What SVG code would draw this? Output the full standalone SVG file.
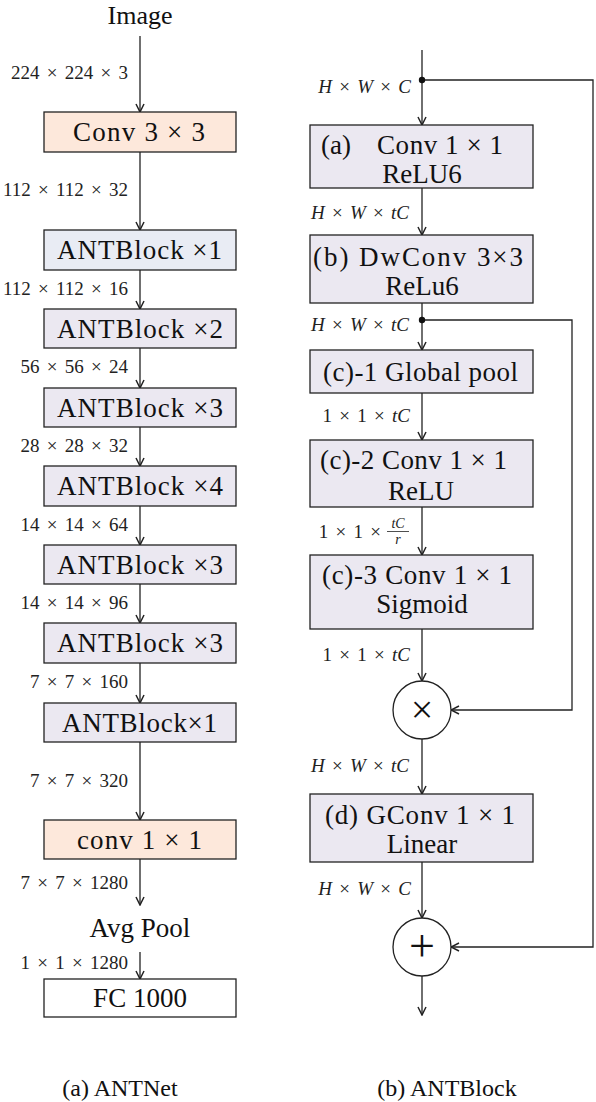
<svg xmlns="http://www.w3.org/2000/svg" width="596" height="1102" viewBox="0 0 596 1102">
<style>
.bx{stroke:#222;stroke-width:1.3}
.peach{fill:#fde8db}
.blue{fill:#e9ecf4}
.lav{fill:#ebe8f1}
.white{fill:#fff}
.t{font-family:"Liberation Serif",serif;font-size:27px;fill:#111;text-anchor:middle}
.tl{font-family:"Liberation Serif",serif;font-size:27px;fill:#111}
.s{font-family:"Liberation Serif",serif;font-size:19px;fill:#222;text-anchor:end;word-spacing:2.5px}
.f{font-family:"Liberation Serif",serif;font-size:14px;fill:#222;text-anchor:middle;font-style:italic}
.i{font-style:italic}
.cap{font-family:"Liberation Serif",serif;font-size:24px;fill:#111;text-anchor:middle}
.ln{fill:none;stroke:#222;stroke-width:1.3}
</style>
<defs>
<marker id="ar" viewBox="0 0 10 10" refX="9" refY="5" markerWidth="10" markerHeight="10" markerUnits="userSpaceOnUse" orient="auto">
<path d="M1,1 L9,5 L1,9" fill="none" stroke="#222" stroke-width="1.5"/>
</marker>
</defs>

<g id="connectors">
<path class="ln" d="M140,36 V112" marker-end="url(#ar)"/>
<path class="ln" d="M140,152 V230" marker-end="url(#ar)"/>
<path class="ln" d="M140,270 V309" marker-end="url(#ar)"/>
<path class="ln" d="M140,348 V388" marker-end="url(#ar)"/>
<path class="ln" d="M140,427 V466" marker-end="url(#ar)"/>
<path class="ln" d="M140,506 V545" marker-end="url(#ar)"/>
<path class="ln" d="M140,584 V623" marker-end="url(#ar)"/>
<path class="ln" d="M140,663 V703" marker-end="url(#ar)"/>
<path class="ln" d="M140,742 V820" marker-end="url(#ar)"/>
<path class="ln" d="M140,859 V905" marker-end="url(#ar)"/>
<path class="ln" d="M140,952 V979" marker-end="url(#ar)"/>

<path class="ln" d="M422,50 V125" marker-end="url(#ar)"/>
<path class="ln" d="M422,188 V235" marker-end="url(#ar)"/>
<path class="ln" d="M422,303 V350" marker-end="url(#ar)"/>
<path class="ln" d="M422,393 V440" marker-end="url(#ar)"/>
<path class="ln" d="M422,507 V555" marker-end="url(#ar)"/>
<path class="ln" d="M422,629 V681" marker-end="url(#ar)"/>
<path class="ln" d="M422,739 V794" marker-end="url(#ar)"/>
<path class="ln" d="M422,862 V918" marker-end="url(#ar)"/>
<path class="ln" d="M422,976 V1015" marker-end="url(#ar)"/>
<path class="ln" d="M422,80 H593 V947 H451" marker-end="url(#ar)"/>
<path class="ln" d="M422,320 H572 V710 H451" marker-end="url(#ar)"/>
<circle cx="422" cy="80" r="3.2" fill="#111"/>
<circle cx="422" cy="320" r="3.2" fill="#111"/>

<text class="s" x="128" y="79">224 × 224 × 3</text>
<text class="s" x="128" y="196">112 × 112 × 32</text>
<text class="s" x="128" y="295">112 × 112 × 16</text>
<text class="s" x="128" y="373">56 × 56 × 24</text>
<text class="s" x="128" y="452">28 × 28 × 32</text>
<text class="s" x="128" y="531">14 × 14 × 64</text>
<text class="s" x="128" y="609">14 × 14 × 96</text>
<text class="s" x="128" y="688">7 × 7 × 160</text>
<text class="s" x="128" y="787">7 × 7 × 320</text>
<text class="s" x="128" y="889">7 × 7 × 1280</text>
<text class="s" x="128" y="969">1 × 1 × 1280</text>

<text class="s" x="411" y="93"><tspan class="i">H</tspan> × <tspan class="i">W</tspan> × <tspan class="i">C</tspan></text>
<text class="s" x="409" y="219"><tspan class="i">H</tspan> × <tspan class="i">W</tspan> × <tspan class="i">tC</tspan></text>
<text class="s" x="409" y="331"><tspan class="i">H</tspan> × <tspan class="i">W</tspan> × <tspan class="i">tC</tspan></text>
<text class="s" x="410" y="422">1 × 1 × <tspan class="i">tC</tspan></text>
<text class="s" x="381" y="538">1 × 1 ×</text>
<text class="f" x="398" y="528">tC</text>
<line x1="387" y1="531.5" x2="409" y2="531.5" stroke="#222" stroke-width="0.8"/>
<text class="f" x="398" y="544">r</text>
<text class="s" x="410" y="661">1 × 1 × <tspan class="i">tC</tspan></text>
<text class="s" x="409" y="772"><tspan class="i">H</tspan> × <tspan class="i">W</tspan> × <tspan class="i">tC</tspan></text>
<text class="s" x="411" y="895"><tspan class="i">H</tspan> × <tspan class="i">W</tspan> × <tspan class="i">C</tspan></text>
</g>

<g id="image"><text class="t" x="140" y="24" style="font-size:26px">Image</text></g>
<g id="conv3"><rect class="bx peach" x="44" y="112" width="192" height="40"/><text class="tl" x="73" y="141" textLength="132" lengthAdjust="spacing">Conv 3 × 3</text></g>
<g id="ab1"><rect class="bx blue" x="44" y="230" width="192" height="40"/><text class="tl" x="57" y="259" textLength="165" lengthAdjust="spacing">ANTBlock ×1</text></g>
<g id="ab2"><rect class="bx lav" x="44" y="309" width="192" height="39"/><text class="tl" x="57" y="338" textLength="166" lengthAdjust="spacing">ANTBlock ×2</text></g>
<g id="ab3a"><rect class="bx lav" x="44" y="388" width="192" height="39"/><text class="tl" x="57" y="417" textLength="166" lengthAdjust="spacing">ANTBlock ×3</text></g>
<g id="ab4"><rect class="bx lav" x="44" y="466" width="192" height="40"/><text class="tl" x="57" y="495" textLength="166" lengthAdjust="spacing">ANTBlock ×4</text></g>
<g id="ab3b"><rect class="bx lav" x="44" y="545" width="192" height="39"/><text class="tl" x="57" y="574" textLength="166" lengthAdjust="spacing">ANTBlock ×3</text></g>
<g id="ab3c"><rect class="bx lav" x="44" y="623" width="192" height="40"/><text class="tl" x="57" y="652" textLength="166" lengthAdjust="spacing">ANTBlock ×3</text></g>
<g id="ab1b"><rect class="bx lav" x="44" y="703" width="192" height="39"/><text class="tl" x="62" y="732" textLength="155" lengthAdjust="spacing">ANTBlock×1</text></g>
<g id="conv1"><rect class="bx peach" x="44" y="820" width="192" height="39"/><text class="tl" x="77" y="849" textLength="125" lengthAdjust="spacing">conv 1 × 1</text></g>
<g id="avgpool"><text class="t" x="140" y="937">Avg Pool</text></g>
<g id="fc"><rect class="bx white" x="44" y="979" width="192" height="38"/><text class="t" x="140" y="1007">FC 1000</text></g>
<g id="capa"><text class="cap" x="120" y="1096">(a) ANTNet</text></g>

<g id="ba"><rect class="bx lav" x="310" y="125" width="223" height="63"/><text class="tl" x="321" y="154">(a)</text><text class="tl" x="377" y="154" textLength="126" lengthAdjust="spacing">Conv 1 × 1</text><text class="t" x="422" y="183">ReLU6</text></g>
<g id="bb"><rect class="bx lav" x="310" y="235" width="223" height="68"/><text class="tl" x="313" y="266" textLength="210" lengthAdjust="spacing">(b) DwConv 3×3</text><text class="t" x="422" y="295">ReLu6</text></g>
<g id="bc1"><rect class="bx lav" x="310" y="350" width="223" height="43"/><text class="tl" x="323" y="381" textLength="195" lengthAdjust="spacing">(c)-1 Global pool</text></g>
<g id="bc2"><rect class="bx lav" x="310" y="440" width="223" height="67"/><text class="tl" x="320" y="469" textLength="187" lengthAdjust="spacing">(c)-2 Conv 1 × 1</text><text class="t" x="421" y="500">ReLU</text></g>
<g id="bc3"><rect class="bx lav" x="310" y="555" width="223" height="74"/><text class="tl" x="322" y="584" textLength="190" lengthAdjust="spacing">(c)-3 Conv 1 × 1</text><text class="t" x="422" y="613">Sigmoid</text></g>
<g id="mul"><circle cx="422" cy="710" r="29" fill="#fff" stroke="#222" stroke-width="1.3"/><text class="t" x="422" y="723" style="font-size:40px">×</text></g>
<g id="bd"><rect class="bx lav" x="310" y="794" width="223" height="68"/><text class="tl" x="325" y="824" textLength="190" lengthAdjust="spacing">(d) GConv 1 × 1</text><text class="t" x="422" y="853">Linear</text></g>
<g id="add"><circle cx="422" cy="947" r="29" fill="#fff" stroke="#222" stroke-width="1.3"/><text class="t" x="422" y="961" style="font-size:46px">+</text></g>
<g id="capb"><text class="cap" x="447" y="1096">(b) ANTBlock</text></g>
</svg>
